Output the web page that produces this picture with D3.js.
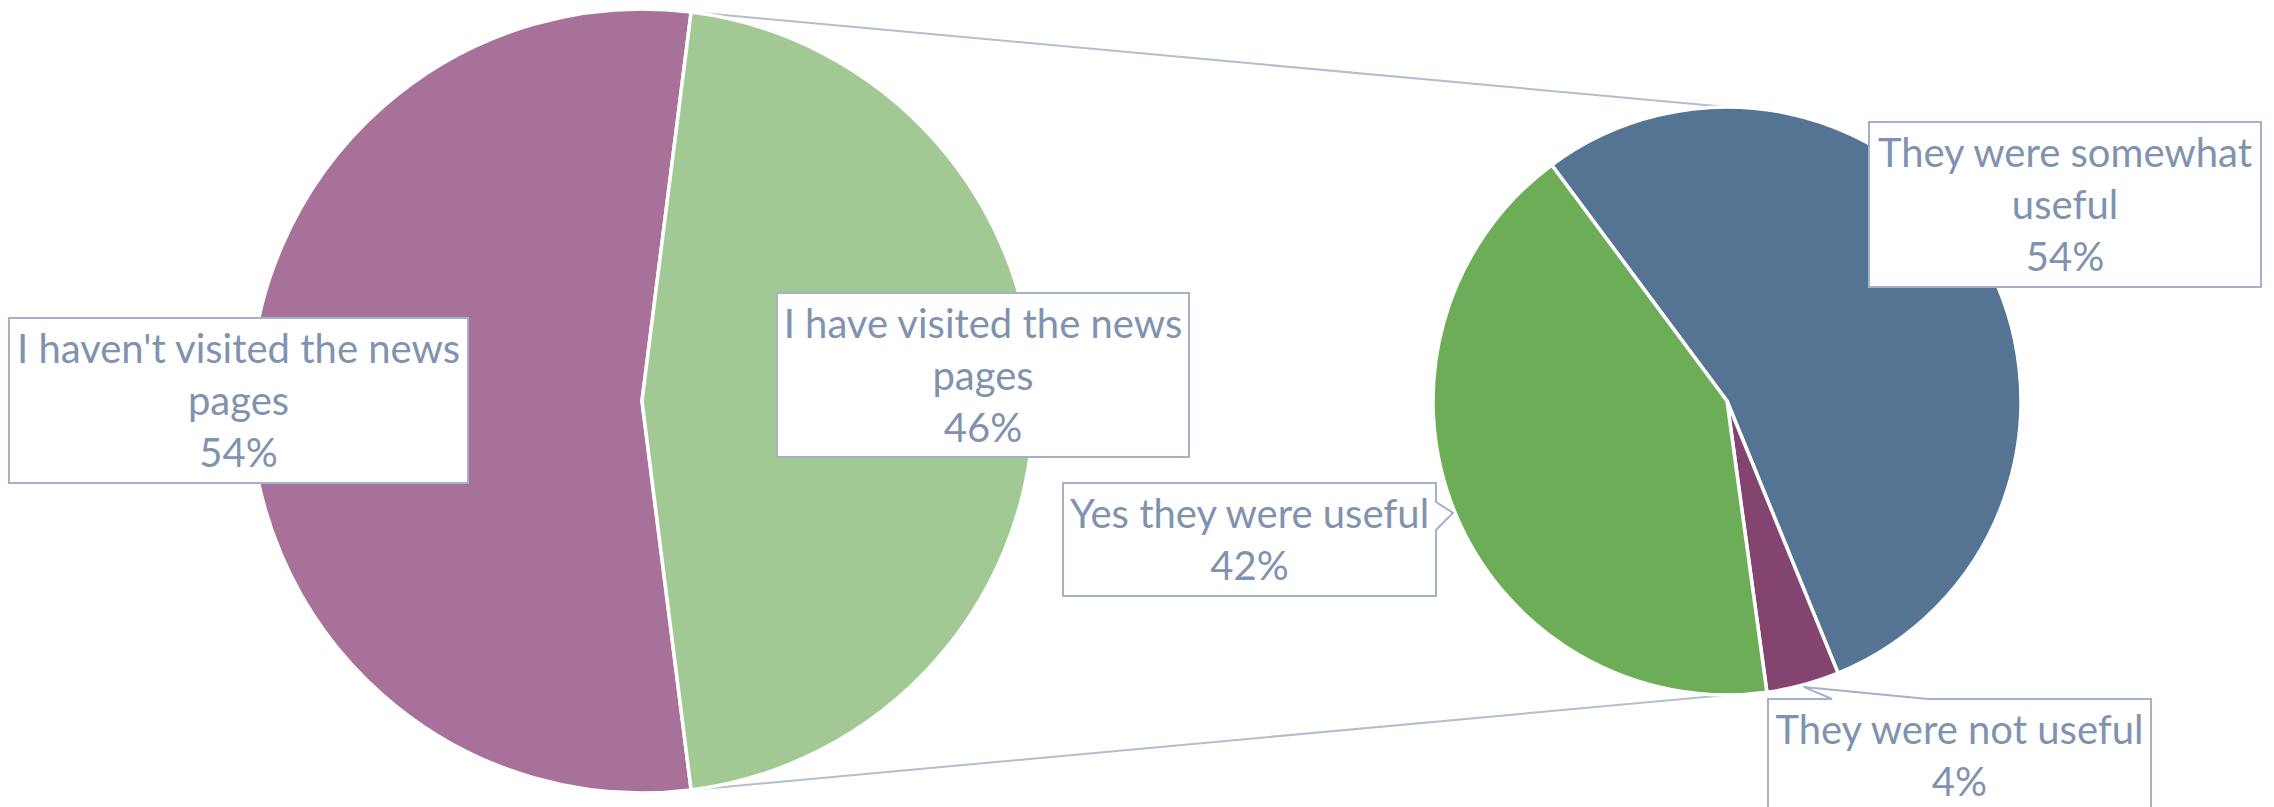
<!DOCTYPE html>
<html>
<head>
<meta charset="utf-8">
<script src="https://cdn.jsdelivr.net/npm/d3@7"></script>
<style>
  html, body { margin: 0; padding: 0; background: #fff; }
  svg { display: block; }
</style>
</head>
<body>
<svg id="chart" width="2274" height="807"></svg>
<script>

/////// Data ///////

var mainCategories = ["I haven't visited the news pages", "I have visited the news pages"];
var mainValues = [54, 46];
var mainColors = ["#A8719A", "#A2C993"];

var subCategories = ["They were somewhat useful", "They were not useful", "Yes they were useful"];
var subValues = [54, 4, 42];
var subColors = ["#557494", "#83456F", "#6EAD57"];


/////// Layout ///////

var svg = d3.select("#chart");
var textColor = "#7F93B0",
    boxStroke = "#A3B2C8",
    fontSize = 40,
    lineGap = 52;

var left = {cx: 642, cy: 401, r: 392},
    right = {cx: 1727, cy: 401, r: 294};

// label boxes, same order as the data
var mainBoxes = [
  {x: 9, y: 318, w: 459, h: 165},
  {x: 777, y: 293, w: 412, h: 164}
];
var subBoxes = [
  {x: 1869, y: 122, w: 392, h: 165},
  {x: 1768, y: 699, w: 383, h: 113, side: "top", a: 1832, b: 1928},
  {x: 1063, y: 483, w: 373, h: 113, side: "right", a: 502, b: 530}
];

// the split slice of the first pie sits centred on the right side
var splitShare = mainValues[1] / d3.sum(mainValues);
var mainPie = d3.pie().sort(null)
    .startAngle(Math.PI / 2 + Math.PI * splitShare)
    .endAngle(Math.PI / 2 + Math.PI * splitShare + 2 * Math.PI);
var subPie = d3.pie().sort(null)
    .startAngle(-36.6 * Math.PI / 180)
    .endAngle(-36.6 * Math.PI / 180 + 2 * Math.PI);

var mainArcs = mainPie(mainValues);
var subArcs = subPie(subValues);

function onCircle(c, ang, rr) {
  return [c.cx + rr * Math.sin(ang), c.cy - rr * Math.cos(ang)];
}


/////// Series lines ///////

var split = mainArcs[1];
var p1 = onCircle(left, split.startAngle, left.r),
    p2 = onCircle(left, split.endAngle, left.r),
    q1 = onCircle(right, 0, right.r),
    q2 = onCircle(right, Math.PI, right.r);

svg.append("g").attr("class", "series-lines")
  .selectAll("line")
  .data([[p1, q1], [p2, q2]])
  .enter().append("line")
  .attr("x1", function(d) { return d[0][0]; })
  .attr("y1", function(d) { return d[0][1]; })
  .attr("x2", function(d) { return d[1][0]; })
  .attr("y2", function(d) { return d[1][1]; })
  .attr("stroke", "#B3BFD0")
  .attr("stroke-width", 2);


/////// Pies ///////

function drawPie(arcs, c, colors) {
  var arc = d3.arc().innerRadius(0).outerRadius(c.r);
  svg.append("g")
    .attr("transform", "translate(" + c.cx + "," + c.cy + ")")
    .selectAll("path")
    .data(arcs)
    .enter().append("path")
    .attr("d", arc)
    .attr("fill", function(d, i) { return colors[i]; })
    .attr("stroke", "#fff")
    .attr("stroke-width", 3.5)
    .attr("stroke-linejoin", "round");
}

drawPie(mainArcs, left, mainColors);
drawPie(subArcs, right, subColors);


/////// Data labels ///////

function wrapWords(text, maxW) {
  var probe = svg.append("text")
    .attr("font-family", "Lato, 'Open Sans', sans-serif")
    .attr("font-size", fontSize);
  var words = text.split(" "), lines = [], cur = "";
  words.forEach(function(w) {
    var test = cur ? cur + " " + w : w;
    probe.text(test);
    if (cur && probe.node().getComputedTextLength() > maxW) {
      lines.push(cur);
      cur = w;
    } else {
      cur = test;
    }
  });
  lines.push(cur);
  probe.remove();
  return lines;
}

function boxPath(b, tip) {
  var x0 = b.x, y0 = b.y, x1 = b.x + b.w, y1 = b.y + b.h;
  if (b.side === "right") {
    return "M" + x0 + "," + y0 + "H" + x1 + "V" + b.a + "L" + tip[0] + "," + tip[1] +
      "L" + x1 + "," + b.b + "V" + y1 + "H" + x0 + "Z";
  }
  if (b.side === "top") {
    return "M" + x0 + "," + y0 + "H" + b.a + "L" + tip[0] + "," + tip[1] +
      "L" + b.b + "," + y0 + "H" + x1 + "V" + y1 + "H" + x0 + "Z";
  }
  return "M" + x0 + "," + y0 + "H" + x1 + "V" + y1 + "H" + x0 + "Z";
}

function drawLabels(arcs, c, cats, boxes) {
  var g = svg.append("g").attr("class", "labels");
  arcs.forEach(function(d, i) {
    var b = boxes[i];
    var mid = (d.startAngle + d.endAngle) / 2;
    var tip = onCircle(c, mid, c.r + 2);
    g.append("path")
      .attr("d", boxPath(b, tip))
      .attr("fill", "#fff")
      .attr("stroke", boxStroke)
      .attr("stroke-width", 2);

    var lines = wrapWords(cats[i], b.w - 6);
    lines.push(d3.format(".0%")(d.value / d3.sum(arcs, function(a) { return a.value; })));
    var t = g.append("text")
      .attr("font-family", "Lato, 'Open Sans', sans-serif")
      .attr("font-size", fontSize)
      .attr("fill", textColor)
      .attr("text-anchor", "middle");
    lines.forEach(function(line, k) {
      t.append("tspan")
        .attr("x", b.x + b.w / 2)
        .attr("y", b.y + 45 + k * lineGap)
        .text(line);
    });
  });
}

drawLabels(mainArcs, left, mainCategories, mainBoxes);
drawLabels(subArcs, right, subCategories, subBoxes);

</script>
</body>
</html>
